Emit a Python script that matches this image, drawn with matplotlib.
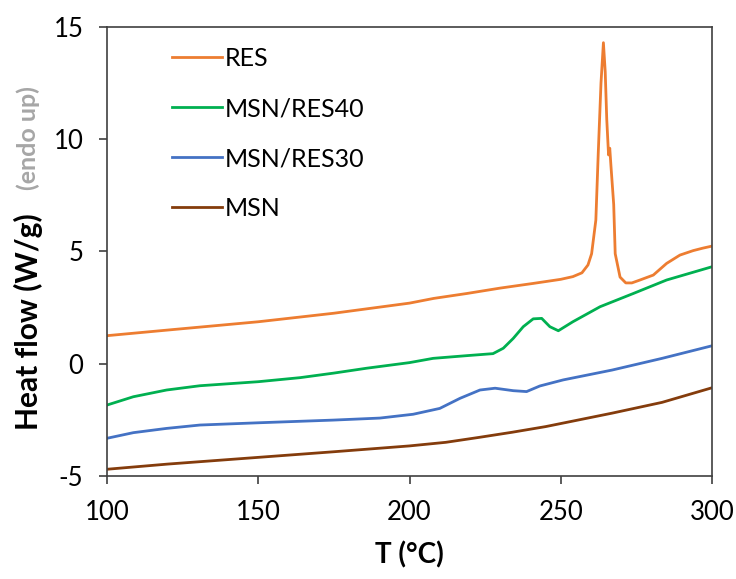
import matplotlib
matplotlib.use('Agg')
import matplotlib.pyplot as plt

plt.rcParams['font.family'] = ['Lato', 'DejaVu Sans']
plt.rcParams['axes.unicode_minus'] = False

# RES
res_t = [100, 120, 150, 175, 200, 208, 219, 230, 241, 250, 254, 257, 259, 260.2, 261.6, 262.4,
         263.3, 264.1, 264.7, 265.2, 265.8, 266.2, 266.6, 267.5, 268, 269.6, 271.5, 273.5, 276.2,
         280.6, 285, 289.4, 293.8, 297, 300]
res_y = [1.25, 1.5, 1.87, 2.25, 2.7, 2.91, 3.13, 3.37, 3.58, 3.76, 3.88, 4.05, 4.4, 4.9, 6.4, 9.4,
         12.5, 14.3, 13.0, 10.9, 9.3, 9.6, 8.8, 7.1, 4.9, 3.86, 3.6, 3.6, 3.73, 3.95, 4.47, 4.84,
         5.04, 5.15, 5.24]

# MSN/RES40
r40_t = [100, 108.7, 119.7, 130.7, 150, 163.8, 174.8, 185.8, 200, 207.8, 218.9, 227.6, 231, 234.3,
         237.6, 240.9, 243.7, 246.4, 249.2, 254, 263, 274, 285, 300]
r40_y = [-1.84, -1.47, -1.17, -0.98, -0.8, -0.62, -0.42, -0.2, 0.05, 0.24, 0.36, 0.45, 0.69, 1.13,
         1.65, 2.0, 2.02, 1.65, 1.47, 1.87, 2.54, 3.13, 3.73, 4.32]

# MSN/RES30
r30_t = [100, 108.7, 119.7, 130.7, 150, 174.8, 190.2, 201.2, 210, 216.7, 223.3, 228.3, 234.3,
         238.7, 243.1, 250.8, 267, 283.5, 300]
r30_y = [-3.32, -3.07, -2.88, -2.73, -2.63, -2.51, -2.42, -2.25, -1.99, -1.54, -1.17, -1.09, -1.2,
         -1.24, -0.99, -0.72, -0.28, 0.24, 0.8]

# MSN
msn_t = [100, 120, 150, 175, 200, 212, 223, 234, 245, 256, 267, 283.5, 300]
msn_y = [-4.7, -4.47, -4.17, -3.92, -3.66, -3.5, -3.28, -3.05, -2.8, -2.5, -2.2, -1.72, -1.07]

fig = plt.figure(figsize=(7.36, 5.79), dpi=100)
ax = fig.add_axes([0.1454, 0.1779, 0.822, 0.7755])

lw = 2.0
ax.plot(res_t, res_y, color='#ED7D31', lw=lw, label='RES')
ax.plot(r40_t, r40_y, color='#00B050', lw=lw, label='MSN/RES40')
ax.plot(r30_t, r30_y, color='#4472C4', lw=lw, label='MSN/RES30')
ax.plot(msn_t, msn_y, color='#843C0C', lw=lw, label='MSN')

ax.set_xlim(100, 300)
ax.set_ylim(-5, 15)
ax.set_xticks([100, 150, 200, 250, 300])
ax.set_yticks([-5, 0, 5, 10, 15])
ax.tick_params(direction='out', length=6, width=1.2, labelsize=18.5, colors='#404040',
               labelcolor='black')
ax.tick_params(axis='x', pad=11)
ax.tick_params(axis='y', pad=11)
for s in ax.spines.values():
    s.set_color('#404040')
    s.set_linewidth(1.2)

ax.set_xlabel('T (°C)', fontsize=20, fontweight='bold', labelpad=12)

fig.text(28 / 736, 1 - 430 / 579, 'Heat flow (W/g)', rotation=90, ha='center', va='bottom',
         fontsize=21.5, fontweight='bold')
fig.text(28 / 736, 1 - 190 / 579, '(endo up)', rotation=90, ha='center', va='bottom',
         fontsize=18, fontweight='bold', color='#A6A6A6')

ax.legend(loc='upper left', bbox_to_anchor=(0.07, 1.005), frameon=False, fontsize=18,
          handlelength=2.0, handletextpad=0.12, labelspacing=1.08)

fig.savefig('out.png', dpi=100)
